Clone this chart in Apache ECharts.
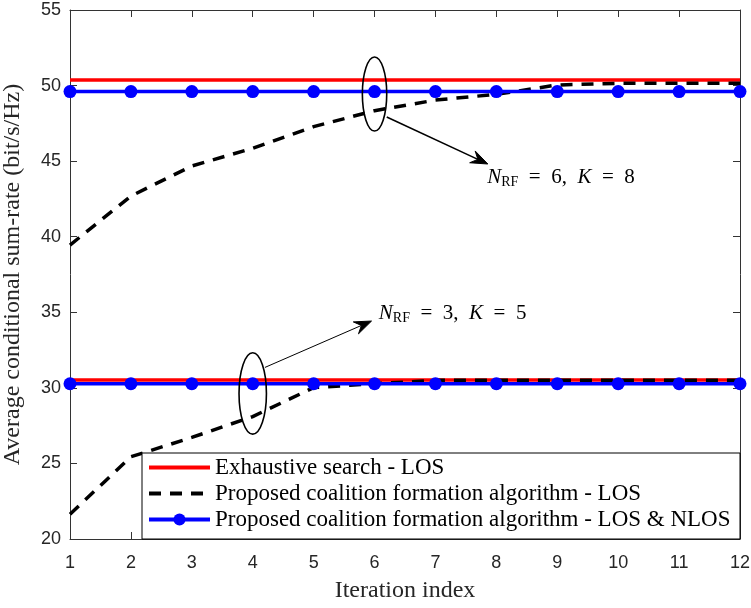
<!DOCTYPE html>
<html>
<head>
<meta charset="utf-8">
<script src="https://cdn.jsdelivr.net/npm/echarts@6/dist/echarts.min.js"></script>
<style>
  html, body { margin: 0; padding: 0; background: #ffffff; }
  #chart { width: 751px; height: 608px; }
</style>
</head>
<body>
<div id="chart"></div>
<script>
// Iteration index (x axis)
const iterations = [1, 2, 3, 4, 5, 6, 7, 8, 9, 10, 11, 12];
// Y axis tick values
const yTicks = [20, 25, 30, 35, 40, 45, 50, 55];

// N_RF = 6, K = 8
const exhaustiveK8 = [50.37, 50.37, 50.37, 50.37, 50.37, 50.37, 50.37, 50.37, 50.37, 50.37, 50.37, 50.37];
const proposedLosK8 = [39.45, 42.69, 44.68, 45.85, 47.28, 48.34, 49.04, 49.42, 50.04, 50.15, 50.15, 50.15];
const proposedNlosK8 = [49.6, 49.6, 49.6, 49.6, 49.6, 49.6, 49.6, 49.6, 49.6, 49.6, 49.6, 49.6];

// N_RF = 3, K = 5
const exhaustiveK5 = [30.52, 30.52, 30.52, 30.52, 30.52, 30.52, 30.52, 30.52, 30.52, 30.52, 30.52, 30.52];
const proposedLosK5 = [21.64, 25.44, 26.72, 28.1, 30.02, 30.27, 30.5, 30.5, 30.5, 30.5, 30.5, 30.5];
const proposedNlosK5 = [30.27, 30.27, 30.27, 30.27, 30.27, 30.27, 30.27, 30.27, 30.27, 30.27, 30.27, 30.27];

const NAME_ES = 'Exhaustive search - LOS';
const NAME_PL = 'Proposed coalition formation algorithm - LOS';
const NAME_PN = 'Proposed coalition formation algorithm - LOS & NLOS';

const SERIF = 'Liberation Serif, Times New Roman, serif';
const SANS = 'Liberation Sans, Arial, sans-serif';
const AXIS_COLOR = '#333333';

function pairs(vals) { return iterations.map((x, i) => [x, vals[i]]); }

const redStyle = { color: '#ff0000', width: 3.5 };
const blackStyle = { color: '#000000', width: 3.5, type: [12, 9] };
const blueStyle = { color: '#0000ff', width: 3.5 };

function lineSeries(name, vals, lineStyle, withMarker) {
  return {
    name: name,
    type: 'line',
    data: pairs(vals),
    symbol: withMarker ? 'circle' : 'none',
    symbolSize: 13,
    showSymbol: withMarker,
    lineStyle: lineStyle,
    itemStyle: { color: lineStyle.color },
    emphasis: { disabled: true },
    silent: true
  };
}

const chart = echarts.init(document.getElementById('chart'), null, { renderer: 'canvas' });

const xMin = iterations[0], xMax = iterations[iterations.length - 1];
const yMin = yTicks[0], yMax = yTicks[yTicks.length - 1];
const yStep = yTicks[1] - yTicks[0];

const commonX = {
  type: 'value', min: xMin, max: xMax, interval: 1,
  axisLine: { show: true, onZero: false, lineStyle: { color: AXIS_COLOR, width: 1 } },
  axisTick: { show: true, inside: true, length: 7, lineStyle: { color: AXIS_COLOR } },
  splitLine: { show: false }
};
const commonY = {
  type: 'value', min: yMin, max: yMax, interval: yStep,
  axisLine: { show: true, onZero: false, lineStyle: { color: AXIS_COLOR, width: 1 } },
  axisTick: { show: true, inside: true, length: 7, lineStyle: { color: AXIS_COLOR } },
  splitLine: { show: false }
};

// plain line samples in the legend for the unmarked series
const hiddenMarker = { color: 'rgba(0,0,0,0)', borderWidth: 0 };

chart.setOption({
  animation: false,
  backgroundColor: '#ffffff',
  grid: { left: 70, right: 11, top: 10, bottom: 69, containLabel: false, outerBoundsMode: 'none' },
  xAxis: [
    Object.assign({}, commonX, {
      position: 'bottom',
      name: 'Iteration index', nameLocation: 'middle', nameGap: 40,
      nameTextStyle: { fontFamily: SERIF, fontSize: 24, color: '#262626' },
      axisLabel: { show: true, margin: 15, fontFamily: SANS, fontSize: 18, color: '#262626' }
    }),
    Object.assign({}, commonX, { position: 'top', axisLabel: { show: false } })
  ],
  yAxis: [
    Object.assign({}, commonY, {
      position: 'left',
      name: 'Average conditional sum-rate (bit/s/Hz)', nameLocation: 'middle', nameGap: 45,
      nameTextStyle: { fontFamily: SERIF, fontSize: 24, color: '#262626' },
      axisLabel: { show: true, margin: 9, fontFamily: SANS, fontSize: 18, color: '#262626' }
    }),
    Object.assign({}, commonY, { position: 'right', axisLabel: { show: false } })
  ],
  legend: {
    data: [
      { name: NAME_ES, itemStyle: hiddenMarker },
      { name: NAME_PL, itemStyle: hiddenMarker },
      { name: NAME_PN }
    ],
    orient: 'vertical',
    left: 142, top: 451,
    itemWidth: 61, itemHeight: 15, itemGap: 3,
    selectedMode: false,
    lineStyle: { width: 4 },
    textStyle: { fontFamily: SERIF, fontSize: 23, color: '#000000' },
    z: 6
  },
  series: [
    lineSeries(NAME_ES, exhaustiveK8, redStyle, false),
    lineSeries(NAME_ES, exhaustiveK5, redStyle, false),
    lineSeries(NAME_PL, proposedLosK8, blackStyle, false),
    lineSeries(NAME_PL, proposedLosK5, blackStyle, false),
    lineSeries(NAME_PN, proposedNlosK8, blueStyle, true),
    lineSeries(NAME_PN, proposedNlosK5, blueStyle, true)
  ]
});

// ---- annotations placed in data coordinates ----
function px(x, y) { return chart.convertToPixel({ gridIndex: 0 }, [x, y]); }

function ellipse(cx, cy, dx, dy) {
  const c = px(cx, cy);
  const e = px(cx + dx, cy + dy);
  return {
    type: 'ellipse', z: 7, silent: true,
    shape: { cx: c[0], cy: c[1], rx: Math.abs(e[0] - c[0]), ry: Math.abs(e[1] - c[1]) },
    style: { fill: 'none', stroke: '#000000', lineWidth: 1.6 }
  };
}

function arrow(x0, y0, x1, y1, lw) {
  const a = px(x0, y0), b = px(x1, y1);
  const dx = b[0] - a[0], dy = b[1] - a[1];
  const len = Math.hypot(dx, dy);
  const ux = dx / len, uy = dy / len;
  const nx = -uy, ny = ux;
  const L = 17, W = 6.5, notch = 6;
  const back = [b[0] - L * ux, b[1] - L * uy];
  const inner = [b[0] - (L - notch) * ux, b[1] - (L - notch) * uy];
  return [
    { type: 'line', z: 7, silent: true,
      shape: { x1: a[0], y1: a[1], x2: inner[0], y2: inner[1] },
      style: { stroke: '#000000', lineWidth: lw } },
    { type: 'polygon', z: 7, silent: true,
      shape: { points: [b, [back[0] + W * nx, back[1] + W * ny], inner, [back[0] - W * nx, back[1] - W * ny]] },
      style: { fill: '#000000', stroke: '#000000', lineWidth: 1 } }
  ];
}

function mathLabel(x, y, nrf, k) {
  const p = px(x, y);
  return {
    type: 'text', z: 7, silent: true, x: p[0], y: p[1],
    style: {
      text: '{i|N}{s|RF}{r|  =  ' + nrf + ',  }{i|K}{r|  =  ' + k + '}',
      verticalAlign: 'middle',
      fill: '#000000',
      rich: {
        i: { fontFamily: SERIF, fontStyle: 'italic', fontSize: 21, lineHeight: 24 },
        s: { fontFamily: SERIF, fontSize: 14, lineHeight: 24, verticalAlign: 'bottom' },
        r: { fontFamily: SERIF, fontSize: 21, lineHeight: 24 }
      }
    }
  };
}

// legend frame, reaching to the right and bottom edges of the plot
const corner = px(xMax, yMin);
const legendFrame = {
  type: 'rect', z: 5, silent: true,
  shape: { x: 142, y: 453, width: corner[0] - 142, height: corner[1] - 453 },
  style: { fill: '#ffffff', stroke: '#000000', lineWidth: 1 }
};

chart.setOption({
  graphic: [
    legendFrame,
    ellipse(6, 49.44, 0.2, 2.45),
    ...arrow(6.2, 47.92, 7.86, 44.81, 1.6),
    mathLabel(7.85, 43.95, 6, 8),
    ellipse(4, 29.63, 0.225, 2.69),
    ...arrow(4.2, 31.35, 5.95, 34.42, 1),
    mathLabel(6.07, 34.95, 3, 5)
  ]
});
</script>
</body>
</html>
